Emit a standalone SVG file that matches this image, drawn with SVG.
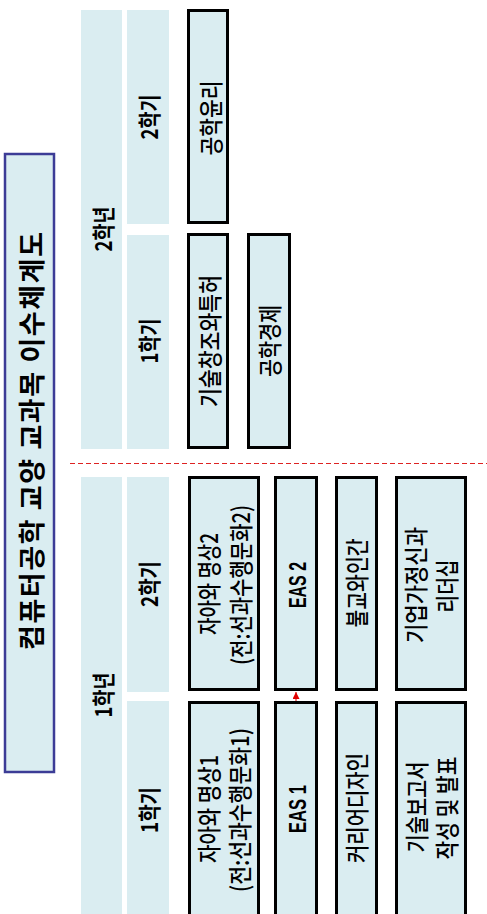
<svg xmlns="http://www.w3.org/2000/svg" width="487" height="914" viewBox="0 0 487 914">
<style>
.band{fill:#daedf1;stroke:none}
.box{fill:#daedf1;stroke:#000;stroke-width:3}
.t{font-family:"Noto Sans CJK KR","Noto Sans",sans-serif;fill:#000;text-anchor:middle;dominant-baseline:central}
.hd{font-size:23px;font-weight:700}
.lb{font-size:24px;font-weight:500}
.en{font-family:"Liberation Sans","Noto Sans CJK KR",sans-serif;font-size:24px;font-weight:700}
</style>
<defs>
<marker id="ar" viewBox="0 0 10 10" refX="10" refY="5" markerWidth="7" markerHeight="7" markerUnits="userSpaceOnUse" orient="auto">
<path d="M0,0 L10,5 L0,10 z" fill="#e00000"/>
</marker>
</defs>
<rect width="487" height="914" fill="#ffffff"/>

<g id="title">
<rect x="5" y="154" width="49" height="618" fill="#daedf1" stroke="#3c3c96" stroke-width="2.5"/>
<text class="t" transform="translate(30,441) rotate(-90)" font-size="27" font-weight="700" textLength="418" lengthAdjust="spacing">컴퓨터공학 교양 교과목 이수체계도</text>
</g>

<g id="year2">
<rect class="band" x="81" y="10" width="41" height="439"/>
<text class="t hd" transform="translate(102,229) rotate(-90)" textLength="45" lengthAdjust="spacingAndGlyphs">2학년</text>
</g>
<g id="y2s2">
<rect class="band" x="127" y="10" width="42" height="214"/>
<text class="t hd" transform="translate(148,117) rotate(-90)" textLength="45" lengthAdjust="spacingAndGlyphs">2학기</text>
</g>
<g id="y2s1">
<rect class="band" x="127" y="235" width="42" height="214"/>
<text class="t hd" transform="translate(148,341) rotate(-90)" textLength="45" lengthAdjust="spacingAndGlyphs">1학기</text>
</g>
<g id="year1">
<rect class="band" x="81" y="477" width="41" height="440"/>
<text class="t hd" transform="translate(102,695) rotate(-90)" textLength="45" lengthAdjust="spacingAndGlyphs">1학년</text>
</g>
<g id="y1s2">
<rect class="band" x="127" y="477" width="42" height="215"/>
<text class="t hd" transform="translate(148,584) rotate(-90)" textLength="46" lengthAdjust="spacingAndGlyphs">2학기</text>
</g>
<g id="y1s1">
<rect class="band" x="127" y="701" width="42" height="216"/>
<text class="t hd" transform="translate(148,810) rotate(-90)" textLength="46" lengthAdjust="spacingAndGlyphs">1학기</text>
</g>

<g id="ethics">
<rect class="box" x="188.5" y="10.5" width="39" height="212"/>
<text class="t lb" transform="translate(209,118) rotate(-90)" textLength="75" lengthAdjust="spacingAndGlyphs">공학윤리</text>
</g>
<g id="patent">
<rect class="box" x="188.5" y="234.5" width="39" height="213"/>
<text class="t lb" transform="translate(208,341) rotate(-90)" textLength="132" lengthAdjust="spacingAndGlyphs">기술창조와특허</text>
</g>
<g id="economy">
<rect class="box" x="248.5" y="234.5" width="41" height="213"/>
<text class="t lb" transform="translate(268,341) rotate(-90)" textLength="72" lengthAdjust="spacingAndGlyphs">공학경제</text>
</g>

<g id="meditation2">
<rect class="box" x="189.5" y="477.5" width="69" height="212"/>
<text class="t lb" transform="translate(207,584) rotate(-90)" textLength="102" lengthAdjust="spacingAndGlyphs">자아와 명상2</text>
<text class="t lb" transform="translate(239,585) rotate(-90)" textLength="160" lengthAdjust="spacingAndGlyphs">(전:선과수행문화2)</text>
</g>
<g id="meditation1">
<rect class="box" x="189.5" y="702.5" width="69" height="216"/>
<text class="t lb" transform="translate(207,809) rotate(-90)" textLength="108" lengthAdjust="spacingAndGlyphs">자아와 명상1</text>
<text class="t lb" transform="translate(238,810) rotate(-90)" textLength="164" lengthAdjust="spacingAndGlyphs">(전:선과수행문화1)</text>
</g>
<g id="eas2">
<rect class="box" x="275.5" y="477.5" width="41" height="212"/>
<text class="t en" transform="translate(297,585) rotate(-90)" textLength="46" lengthAdjust="spacingAndGlyphs">EAS 2</text>
</g>
<g id="eas1">
<rect class="box" x="275.5" y="702.5" width="41" height="216"/>
<text class="t en" transform="translate(297,809) rotate(-90)" textLength="48" lengthAdjust="spacingAndGlyphs">EAS 1</text>
</g>
<g id="buddhism">
<rect class="box" x="336.5" y="477.5" width="40" height="212"/>
<text class="t lb" transform="translate(355,583) rotate(-90)" textLength="89" lengthAdjust="spacingAndGlyphs">불교와인간</text>
</g>
<g id="career">
<rect class="box" x="336.5" y="702.5" width="40" height="216"/>
<text class="t lb" transform="translate(355,808) rotate(-90)" textLength="110" lengthAdjust="spacingAndGlyphs">커리어디자인</text>
</g>
<g id="leadership">
<rect class="box" x="396.5" y="477.5" width="69" height="212"/>
<text class="t lb" transform="translate(414,585) rotate(-90)" textLength="116" lengthAdjust="spacingAndGlyphs">기업가정신과</text>
<text class="t lb" transform="translate(445,586) rotate(-90)" textLength="53" lengthAdjust="spacingAndGlyphs">리더십</text>
</g>
<g id="report">
<rect class="box" x="396.5" y="702.5" width="69" height="216"/>
<text class="t lb" transform="translate(415,807) rotate(-90)" textLength="91" lengthAdjust="spacingAndGlyphs">기술보고서</text>
<text class="t lb" transform="translate(445,808) rotate(-90)" textLength="103" lengthAdjust="spacingAndGlyphs">작성 및 발표</text>
</g>

<g id="connectors">
<line x1="70" y1="463.5" x2="487" y2="463.5" stroke="#dd2222" stroke-width="1.2" stroke-dasharray="5,3"/>
<line x1="296" y1="701" x2="296" y2="692" stroke="#e00000" stroke-width="1" marker-end="url(#ar)"/>
</g>
</svg>
